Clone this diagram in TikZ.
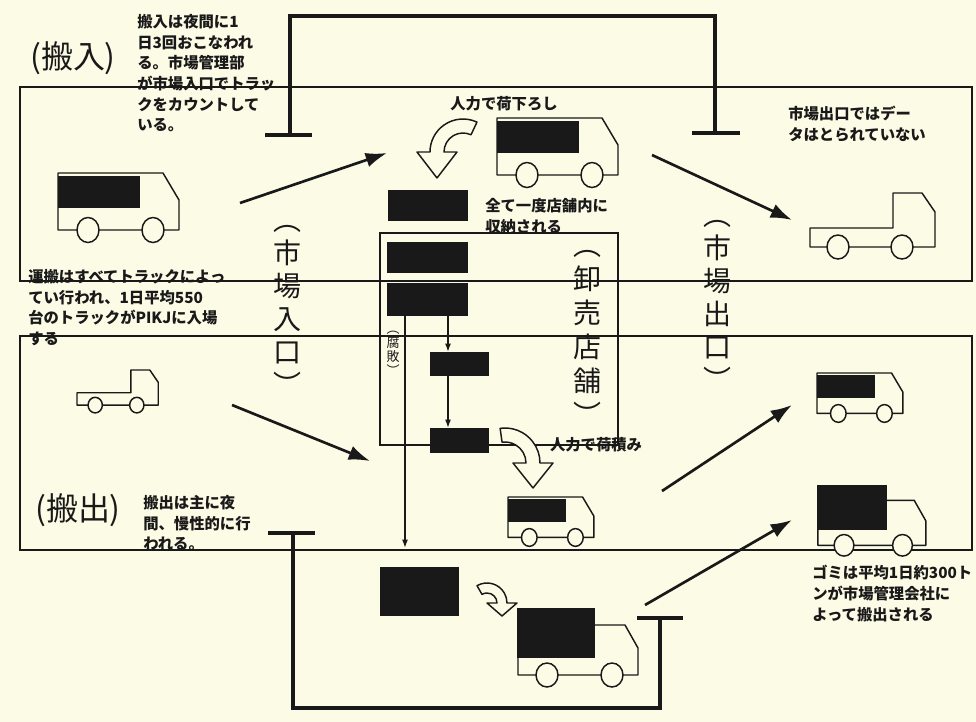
\documentclass[tikz,border=0pt]{standalone}
\usepackage{fontspec}
\setmainfont{Noto Sans CJK JP}
\usetikzlibrary{positioning, arrows.meta, calc}

\definecolor{paper}{RGB}{252,251,230}
\definecolor{ink}{RGB}{25,25,25}

\begin{document}
\begin{tikzpicture}[
    x=0.75pt, y=-0.75pt,
    frame/.style={draw=ink, line width=1.2pt},
    gate/.style={draw=ink, line width=2.3pt},
    goods/.style={draw=ink, fill=ink, inner sep=0, line width=0.6pt},
    note/.style={anchor=north west, inner sep=0, align=left, text=ink, font=\bfseries\fontsize{11.5}{15.5}\selectfont},
    hand/.style={inner sep=0, text=ink, font=\bfseries\fontsize{11.5}{15.5}\selectfont},
    biglabel/.style={inner sep=0, text=ink, font=\fontsize{24}{28}\selectfont},
    vlabel/.style={inner sep=0, align=center, text=ink, font=\fontsize{21}{24.75}\selectfont},
    arrow/.style={draw=ink, line width=2pt, -{Latex[length=16pt, width=11pt]}},
    flow/.style={draw=ink, line width=0.8pt, -{Latex[length=6pt, width=4.5pt]}},
    hollow/.style={draw=ink, fill=paper, line width=1.1pt, line join=round},
    wheel/.style={draw=ink, fill=paper, line width=1.1pt},
    body/.style={draw=ink, line width=1.1pt, line join=round},
    pics/vantruck/.style={code={
        \draw[body] (0,0) -- (105,0) -- (121,27) -- (121,57) -- (0,57) -- cycle;
        \fill[ink] (0,3) rectangle (82,35);
        \draw[wheel] (30,57) circle[x radius=11, y radius=12.5];
        \draw[wheel] (95,57) circle[x radius=11, y radius=12.5];
    }},
    pics/flattruck/.style={code={
        \draw[body] (0,35) -- (83,35) -- (83,0) -- (112,0) -- (125,19) -- (125,54) -- (0,54) -- cycle;
        \draw[wheel] (28,54) circle[x radius=11, y radius=12];
        \draw[wheel] (92,54) circle[x radius=11, y radius=12];
    }},
    pics/dumptruck/.style={code={
        \draw[body] (78,17) -- (108,17) -- (121,40) -- (121,67) -- (1,67) -- (1,45);
        \fill[ink] (0,0) rectangle (78,50);
        \draw[wheel] (30,67) circle[x radius=11, y radius=12];
        \draw[wheel] (95,67) circle[x radius=11, y radius=12];
    }}
]

\useasboundingbox (0,0) rectangle (976,722);
\fill[paper] (0,0) rectangle (976,722);

% Bands for incoming and outgoing traffic
\draw[frame] (20,87) rectangle (972,281);
\draw[frame] (20,336) rectangle (972,550);

% Market gates
\draw[gate] (265,135) -- (312,135);
\draw[gate] (290,135) -- (290,16) -- (715,16) -- (715,133);
\draw[gate] (692,133) -- (740,133);
\draw[gate] (268,533) -- (315,533);
\draw[gate] (293,533) -- (293,708) -- (660,708) -- (660,618);
\draw[gate] (637,618) -- (683,618);

% Store
\draw[frame, line width=0.9pt] (380,233) rectangle (618,445);

% Trucks
\pic (lorryin) at (58,173) {vantruck};
\pic (lorrydock) at (497,118) {vantruck};
\pic (lorryexit) at (810,193) {flattruck};
\pic (lorryempty)[scale=0.65] at (77,370) {flattruck};
\pic (lorryload)[scale=0.71] at (508,497) {vantruck};
\pic (lorryaway)[scale=0.71] at (817,373) {vantruck};
\pic (dumpaway)[scale=0.9] at (817,485) {dumptruck};
\pic (dumpyard) at (517,608) {dumptruck};

% Goods
\node[goods, minimum width=59.25pt, minimum height=22.5pt] (unload) at (427.5,205) {};
\node[goods, minimum width=60pt, minimum height=22.5pt] (shelf) at (427,257) {};
\node[goods, minimum width=60pt, minimum height=24pt] (sorted) at (427,299) {};
\node[goods, minimum width=43.5pt, minimum height=17.25pt] (packed) at (459,363.5) {};
\node[goods, minimum width=43.5pt, minimum height=18pt] (ready) at (459,440) {};
\node[goods, minimum width=58.5pt, minimum height=36pt] (garbage) at (419,591) {};

% Flow inside the store
\draw[flow] ([xshift=15.75pt]sorted.south) -- ([xshift=15.75pt]sorted.south |- packed.north);
\draw[flow] ([xshift=-8.25pt]packed.south) -- ([xshift=-8.25pt]packed.south |- ready.north);
\draw[flow, shorten >=14.25pt] ([xshift=-16.5pt]sorted.south) -- ([xshift=-16.5pt]sorted.south |- garbage.north);

% Hand work
\draw[hollow] ($(463,152)+(295:33)$) arc[start angle=295, end angle=180, radius=33]
    -- (417,152) -- (437,178) -- (457,152) -- (444,152)
    arc[start angle=180, end angle=295, radius=19] -- cycle;
\draw[hollow] ($(505,463)+(262:35)$) arc[start angle=262, end angle=360, radius=35]
    -- (553,463) -- (533,488) -- (513,463) -- (526,463)
    arc[start angle=360, end angle=262, radius=21] -- cycle;
\draw[hollow] ($(487,603)+(240:20)$) arc[start angle=240, end angle=360, radius=20]
    -- (517,603) -- (502,616) -- (487,603) -- (497,603)
    arc[start angle=360, end angle=240, radius=10] -- cycle;

% Traffic
\coordinate (inA) at (240,203);
\coordinate (inB) at (387,153);
\coordinate (exA) at (652,155);
\coordinate (exB) at (792,220);
\coordinate (enA) at (232,405);
\coordinate (enB) at (370,461);
\coordinate (goA) at (662,491);
\coordinate (goB) at (792,405);
\coordinate (trA) at (645,605);
\coordinate (trB) at (792,520);
\draw[arrow] (inA) -- (inB);
\draw[arrow] (exA) -- (exB);
\draw[arrow] (enA) -- (enB);
\draw[arrow] (goA) -- (goB);
\draw[arrow] (trA) -- (trB);

% Labels
\node[biglabel] (inlabel) at (73,58) {(搬入)};
\node[biglabel] (outlabel) at (78,510) {(搬出)};
\node[vlabel] (gatein) at (287,310) {︵\\市\\場\\入\\口\\︶};
\node[vlabel] (gateout) at (717,305) {︵\\市\\場\\出\\口\\︶};
\node[vlabel, font=\fontsize{21}{25.5}\selectfont] (storename) at (587,338) {︵\\卸\\売\\店\\舗\\︶};
\node[vlabel, font=\fontsize{9.75}{10.5}\selectfont] (spoiled) at (393,353) {︵\\腐\\敗\\︶};

\node[note] (innote) at (137,14) {搬入は夜間に1\\日3回おこなわれ\\る。市場管理部\\が市場入口でトラッ\\クをカウントして\\いる。};
\node[note] (storenote) at (485,198) {全て一度店舗内に\\収納される};
\node[note] (exitnote) at (788,106) {市場出口ではデー\\タはとられていない};
\node[note] (trucknote) at (28,269) {運搬はすべてトラックによっ\\てい行われ、1日平均550\\台のトラックがPIKJに入場\\する};
\node[note] (outnote) at (143,495) {搬出は主に夜\\間、慢性的に行\\われる。};
\node[note] (wastenote) at (812,565) {ゴミは平均1日約300ト\\ンが市場管理会社に\\よって搬出される};
\node[hand] (unloadnote) at (504,104) {人力で荷下ろし};
\node[hand] (loadnote) at (596,445) {人力で荷積み};

\end{tikzpicture}
\end{document}
